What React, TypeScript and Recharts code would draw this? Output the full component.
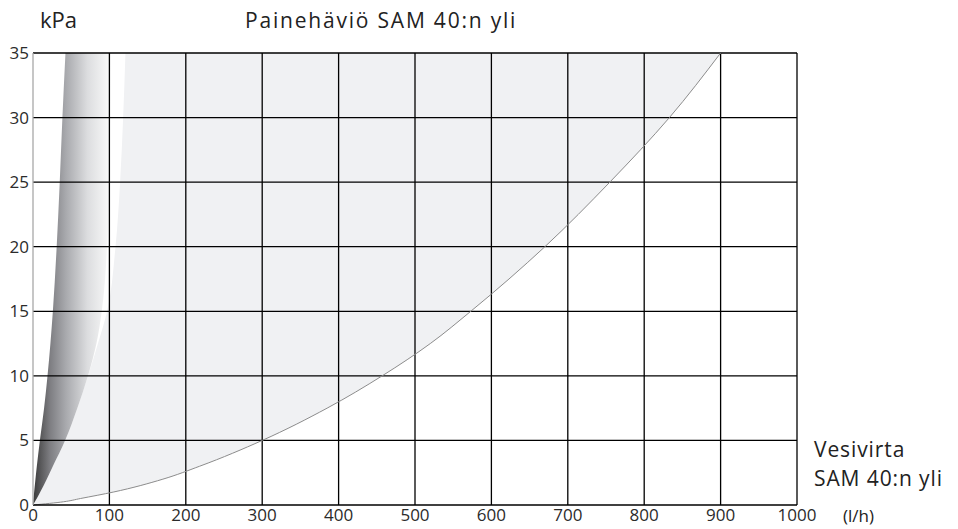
import { ComposedChart, Area, Line, XAxis, YAxis, CartesianGrid } from "recharts";

// pressure drop (kPa) sampled along the y axis
const pressures = [0, 0.25, 0.5, 1, 2, 3, 5, 7.5, 10, 12.5, 15, 20, 25, 30, 35];
// water flow (l/h) on the main curve at each pressure
const flowMain = [0, 40, 62, 105, 170, 218, 300, 385, 457, 520, 573, 670, 755, 833, 900];
// left edge of the light grey band
const flowGreyStart = [0, 2.5, 5, 9.5, 18, 26, 42, 58, 72, 85, 97, 108, 114, 118, 121];
// dark shaded band, left and right edges
const flowShadeStart = [0, 0.3, 0.7, 1.5, 3.2, 5, 9, 14.5, 19, 22.8, 26, 31, 35, 38.5, 42.5];
const flowShadeEnd = [0, 2.5, 5, 9.5, 18, 26, 42, 58, 72, 83, 90, 97, 100, 101, 102];

const xTicks = [0, 100, 200, 300, 400, 500, 600, 700, 800, 900, 1000];
const yTicks = [0, 5, 10, 15, 20, 25, 30, 35];

const data = pressures.map((p, i) => ({
  p,
  main: flowMain[i],
  grey: [flowGreyStart[i], flowMain[i]],
  shade: [flowShadeStart[i], flowShadeEnd[i]],
}));

const W = 958;
const H = 529;
const font = "'Open Sans', sans-serif";
const tick = { fill: "#2b2b2b", fontSize: 17, fontFamily: font };

export default function App() {
  return (
    <div style={{ position: "absolute", left: 0, top: 0, width: W, height: H, background: "#fff" }}>
      {/* filled bands, under the grid */}
      <div style={{ position: "absolute", left: 0, top: 0 }}>
        <ComposedChart
          width={W}
          height={H}
          data={data}
          layout="vertical"
          margin={{ top: 53, right: 161, bottom: 24, left: 33 }}
        >
          <defs>
            <linearGradient id="shadeGrad" x1="0" y1="0" x2="1" y2="0">
              <stop offset="0%" stopColor="#3a3a3a" />
              <stop offset="22%" stopColor="#7e7e82" />
              <stop offset="42%" stopColor="#a8a9ad" />
              <stop offset="70%" stopColor="#dcdddf" />
              <stop offset="100%" stopColor="#fbfbfb" />
            </linearGradient>
          </defs>
          <XAxis type="number" domain={[0, 1000]} hide />
          <YAxis type="number" dataKey="p" domain={[0, 35]} reversed hide />
          <Area
            type="monotone"
            dataKey="grey"
            fill="#f0f1f3"
            fillOpacity={1}
            stroke="none"
            isAnimationActive={false}
          />
          <Area
            type="monotone"
            dataKey="shade"
            fill="url(#shadeGrad)"
            fillOpacity={1}
            stroke="none"
            isAnimationActive={false}
          />
        </ComposedChart>
      </div>
      {/* grid, axes and curve on top */}
      <div style={{ position: "absolute", left: 0, top: 0 }}>
        <ComposedChart
          width={W}
          height={H}
          data={data}
          layout="vertical"
          margin={{ top: 53, right: 161, bottom: 0, left: 0 }}
        >
          <CartesianGrid
            stroke="#000"
            strokeWidth={1.3}
            verticalValues={xTicks.slice(1)}
            horizontalValues={yTicks.slice(1)}
          />
          <XAxis
            type="number"
            domain={[0, 1000]}
            ticks={xTicks}
            interval={0}
            height={24}
            tickSize={0}
            tickMargin={4}
            tick={tick}
            axisLine={{ stroke: "#000", strokeWidth: 1.3 }}
          />
          <YAxis
            type="number"
            dataKey="p"
            domain={[0, 35]}
            reversed
            ticks={yTicks}
            interval={0}
            width={33}
            tickSize={0}
            tickMargin={4}
            tick={tick}
            axisLine={{ stroke: "#a8a8a8", strokeWidth: 1.3 }}
          />
          <Line
            type="monotone"
            dataKey="main"
            stroke="#8c8c8c"
            strokeWidth={1}
            dot={false}
            isAnimationActive={false}
          />
        </ComposedChart>
      </div>
      <svg width={W} height={H} style={{ position: "absolute", left: 0, top: 0, pointerEvents: "none" }}>
        <g fontFamily={font} fill="#222">
          <text x={40} y={28} fontSize={22}>kPa</text>
          <text x={245} y={28} fontSize={21} letterSpacing={1.8}>Painehäviö SAM 40:n yli</text>
          <text x={814} y={457} fontSize={21} letterSpacing={0.9}>Vesivirta</text>
          <text x={814} y={486} fontSize={21} letterSpacing={0.9}>SAM 40:n yli</text>
          <text x={843} y={522} fontSize={17}>(l/h)</text>
        </g>
      </svg>
    </div>
  );
}
